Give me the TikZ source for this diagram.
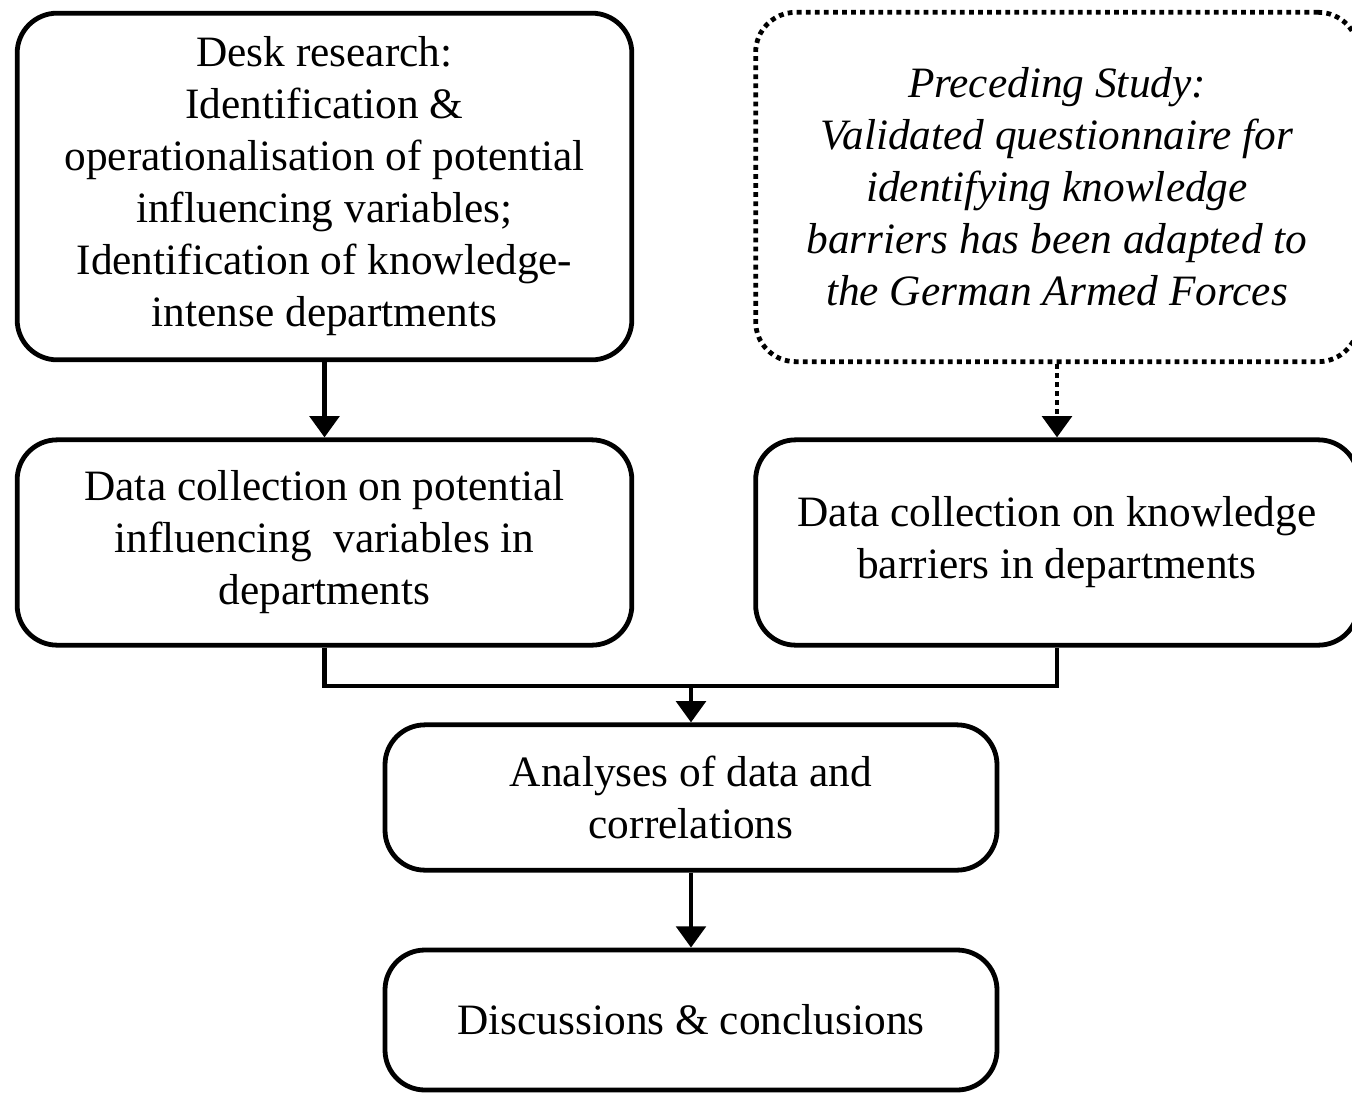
\documentclass[tikz,border=0pt]{standalone}
\usepackage{fontspec}
\setmainfont{Liberation Serif}
\usetikzlibrary{arrows.meta}

\begin{document}
\begin{tikzpicture}[x=0.75pt, y=-0.75pt, >={Triangle[length=16pt, width=22pt]},
    every node/.style={font=\fontsize{32.5}{39}\selectfont, align=center},
    stepbox/.style={draw, line width=3.6pt, rounded corners=30pt, inner sep=0pt},
    dotbox/.style={stepbox, dash pattern=on 3.6pt off 3.2pt},
    link/.style={->, line width=3.6pt}]
    \useasboundingbox (0,0) rectangle (1352,1092);

    % Boxes
    \node[stepbox, minimum width=461pt, minimum height=260pt] (desk) at (324.5,186.5)
      {Desk research:\\ Identification \&\\ operationalisation of potential\\
       influencing variables;\\ Identification of knowledge-\\ intense departments};
    \node[dotbox, minimum width=452pt, minimum height=262pt] (prec) at (1057,187)
      {\itshape Preceding Study:\\ \itshape Validated questionnaire for\\
       \itshape identifying knowledge\\ \itshape barriers has been adapted to\\
       \itshape the German Armed Forces};
    \node[stepbox, minimum width=461pt, minimum height=154pt] (datL) at (324.5,542.5)
      {Data collection on potential\\ influencing \ variables in\\ departments};
    \node[stepbox, minimum width=452pt, minimum height=154pt] (datR) at (1057,542.5)
      {Data collection on knowledge\\ barriers in departments};
    \node[stepbox, minimum width=459pt, minimum height=109pt] (anal) at (691,797.5)
      {Analyses of data and\\ correlations};
    \node[stepbox, minimum width=459pt, minimum height=105pt] (disc) at (691,1020)
      {Discussions \& conclusions};

    % Connectors
    \coordinate (mrg) at (691,686);
    \draw[link] (desk.south) -- (datL.north);
    \draw[link, dash pattern=on 3.6pt off 3.2pt] (prec.south) -- (datR.north);
    \draw[line width=3.6pt] (datL.south) |- (mrg) -| (datR.south);
    \draw[link] (mrg) -- (anal.north);
    \draw[link] (anal.south) -- (disc.north);
\end{tikzpicture}
\end{document}
